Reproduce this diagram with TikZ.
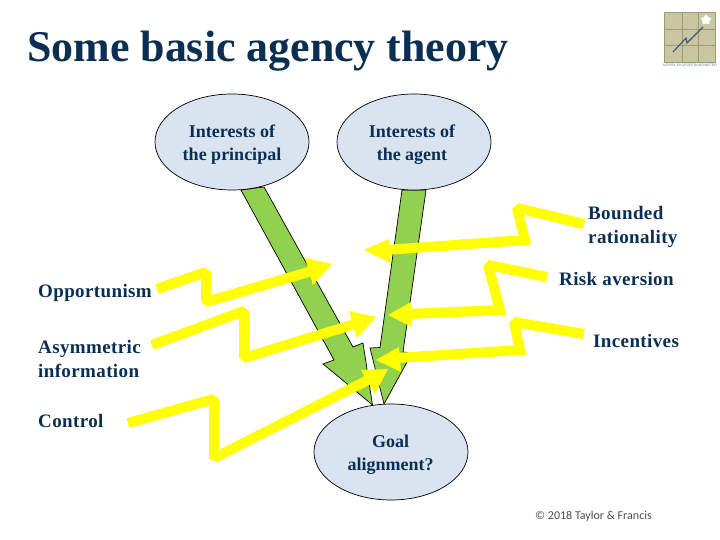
\documentclass[tikz,border=0pt]{standalone}
\usepackage{fontspec}
\setmainfont{Liberation Serif}
\newfontfamily\spaced[LetterSpace=2]{Liberation Serif}
\newfontfamily\footfont{Carlito}
\newfontfamily\logofont{Liberation Sans}
\usetikzlibrary{shapes.geometric,calc}
\definecolor{navy}{HTML}{0B2F52}
\definecolor{bluefill}{HTML}{DAE4F1}
\definecolor{greenfill}{HTML}{92D050}
\definecolor{yel}{HTML}{FFFF00}
\definecolor{logobg}{HTML}{C9C6A0}
\definecolor{logoline}{HTML}{9A9A7C}
\tikzset{
  goalell/.style={ellipse,draw=black,line width=0.7pt,fill=bluefill,minimum width=154pt,minimum height=96pt,inner sep=0pt},
  lab/.style={text=navy,font=\spaced\bfseries\fontsize{19}{24}\selectfont,align=left,anchor=west,inner sep=0pt},
  ctr/.style={text=navy,font=\bfseries\fontsize{18}{23}\selectfont,align=center,inner sep=0pt},
  grn/.style={draw=black,line width=0.7pt,fill=greenfill,line join=miter},
  zig/.style={draw=yel,line width=10pt,line join=miter,miter limit=1.6},
  yhead/.style={fill=yel,draw=none}
}
\begin{document}
\begin{tikzpicture}[x=1pt,y=-1pt]
\useasboundingbox[fill=white] (0,0) rectangle (720,540);
\node[text=navy,font=\bfseries\fontsize{43.9}{50}\selectfont,anchor=base west,inner sep=0pt] (title) at (27,62) {Some basic agency theory};

% logo
\fill[logobg] (664,12) rectangle (715,62);
\draw[logoline,line width=0.6pt] (664,12) rectangle (715,62) (682,12)--(682,62) (698,12)--(698,62) (664,29)--(715,29) (664,45)--(715,45);
\draw[navy!80,line width=1.1pt] (673,52)--(686,38)--(687,43)--(703,27);
\node[star,star points=5,fill=white,draw=none,minimum size=11pt,inner sep=0pt] (logostar) at (706,20) {};
\node[text=navy!60,font=\logofont\fontsize{3.6}{4}\selectfont,inner sep=0pt] (logotext) at (690,65) {NORSK EKSPORTBAROMETER};

% green arrows
\draw[grn] (241,190)--(264,187)--(353,347)--(363,343)--(372.5,405)--(334,373)--(323,364)--(334,360)--cycle;
\draw[grn] (402,190)--(426,190)--(403,352)--(412,353)--(384,404)--(370,348)--(380,347.5)--cycle;

% ellipses
\node[goalell] (principal) at (232,142) {};
\node[goalell] (agent) at (414,142) {};
\node[goalell] (goal) at (391,452) {};
\node[ctr] (principaltext) at (232,145) {Interests of\\the principal};
\node[ctr] (agenttext) at (412,145) {Interests of\\the agent};
\node[ctr] (goaltext) at (390.5,455) {Goal\\alignment?};

% labels
\node[lab] (opp) at (38,293) {Opportunism};
\node[lab] (asym) at (38,359) {Asymmetric\\information};
\node[lab] (ctrl) at (38,421) {Control};
\node[lab] (bounded) at (588,227) {Bounded\\rationality};
\node[lab] (risk) at (559,279) {Risk aversion};
\node[lab] (inc) at (593,341) {Incentives};
\node[font=\footfont\fontsize{12}{13}\selectfont,text=black!70,inner sep=0pt] (copy) at (593.5,516) {© 2018 Taylor \& Francis};

% yellow connectors, left
\coordinate (o1) at (157,289); \coordinate (o2) at (206,272); \coordinate (o3) at (206,302); \coordinate (o4) at (312,271);
\draw[zig] (o1)--(o2)--(o3)--(o4);
\fill[yhead] (332,264)--(305,258)--(313,285)--cycle;
\coordinate (a1) at (152,345); \coordinate (a2) at (244,311); \coordinate (a3) at (244,358); \coordinate (a4) at (355,324);
\draw[zig] (a1)--(a2)--(a3)--(a4);
\fill[yhead] (376,317)--(349,311)--(357,338)--cycle;
\coordinate (c1) at (128,423); \coordinate (c2) at (214,399); \coordinate (c3) at (214,458); \coordinate (c4) at (368,380);
\draw[zig] (c1)--(c2)--(c3)--(c4);
\fill[yhead] (388,369)--(361,370)--(375,394)--cycle;

% yellow connectors, right
\coordinate (b1) at (584,224); \coordinate (b2) at (517,208); \coordinate (b3) at (525,240); \coordinate (b4) at (385,250);
\draw[zig] (b1)--(b2)--(b3)--(b4);
\fill[yhead] (364,250)--(389,239)--(391,263)--cycle;
\coordinate (r1) at (547,277); \coordinate (r2) at (488,265); \coordinate (r3) at (500,310); \coordinate (r4) at (408,314);
\draw[zig] (r1)--(r2)--(r3)--(r4);
\fill[yhead] (388,315)--(411,302)--(412,327)--cycle;
\coordinate (i1) at (584,334); \coordinate (i2) at (514,322); \coordinate (i3) at (520,350); \coordinate (i4) at (396,358);
\draw[zig] (i1)--(i2)--(i3)--(i4);
\fill[yhead] (376,360)--(399,347)--(401,372)--cycle;
\end{tikzpicture}
\end{document}
